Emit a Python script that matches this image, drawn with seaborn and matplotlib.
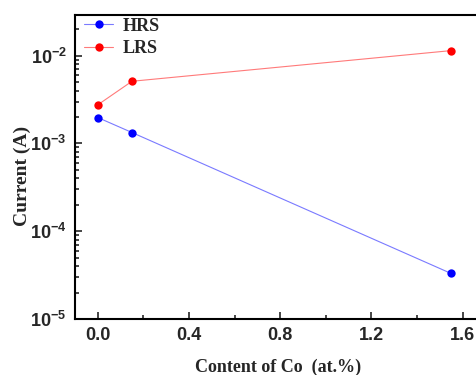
import math
import pandas as pd
import matplotlib
matplotlib.use('Agg')
import matplotlib.pyplot as plt
import matplotlib.ticker as mticker
import seaborn as sns

# Data
co_content = [0.0, 0.15, 1.55]
hrs_current = [1.97e-3, 1.33e-3, 3.3e-5]
lrs_current = [2.75e-3, 5.1e-3, 1.14e-2]

df = pd.DataFrame({
    'co': co_content * 2,
    'current': hrs_current + lrs_current,
    'state': ['HRS'] * len(co_content) + ['LRS'] * len(co_content),
})

marker_colors = {'HRS': '#0000ff', 'LRS': '#ff0000'}
line_colors = {'HRS': '#7a7aff', 'LRS': '#ff7a7a'}

sns.set_style("ticks")
plt.rcParams['font.family'] = ['Liberation Sans', 'DejaVu Sans']
plt.rcParams['mathtext.fontset'] = 'custom'
plt.rcParams['mathtext.bf'] = 'Liberation Sans:bold'
plt.rcParams['mathtext.rm'] = 'Liberation Sans:bold'

fig = plt.figure(figsize=(4.76, 3.75), dpi=100)
ax = fig.add_axes([75 / 476, 56 / 375, 1.0 - 75 / 476 + 0.01, (319 - 15) / 375])

sns.lineplot(data=df, x='co', y='current', hue='state',
             palette=marker_colors,
             marker='o', markersize=6, markeredgewidth=0,
             linewidth=0.8, ax=ax)
for line, st in zip(ax.lines, ['HRS', 'LRS']):
    line.set_color(line_colors[st])
    line.set_markerfacecolor(marker_colors[st])
    line.set_markeredgecolor(marker_colors[st])

ax.set_yscale('log')
ax.set_xlim(-0.1, 1.68)
ax.set_ylim(1e-5, 2.9e-2)

ax.xaxis.set_major_locator(mticker.MultipleLocator(0.4))
ax.xaxis.set_minor_locator(mticker.MultipleLocator(0.2))
ax.xaxis.set_major_formatter(mticker.FormatStrFormatter('%.1f'))
ax.yaxis.set_major_locator(mticker.LogLocator(base=10, numticks=10))
ax.yaxis.set_minor_locator(mticker.LogLocator(base=10, subs=range(2, 10), numticks=20))
ax.yaxis.set_minor_formatter(mticker.NullFormatter())
ax.yaxis.set_major_formatter(mticker.FuncFormatter(
    lambda v, p: r'$\mathbf{10^{%d}}$' % round(math.log10(v))))

ax.tick_params(which='both', direction='in', width=1.2, top=False, right=False)
ax.tick_params(which='major', length=5)
ax.tick_params(which='minor', length=3)
ax.tick_params(axis='x', labelsize=13, pad=6)
ax.tick_params(axis='y', labelsize=13, pad=6)
for lbl in ax.get_xticklabels():
    lbl.set_fontweight('bold')
for s in ax.spines.values():
    s.set_linewidth(1.5)
    s.set_color('black')

ax.set_xlabel('Content of Co  (at.%)', fontsize=13, fontweight='bold',
              family='Liberation Serif', labelpad=10)
ax.set_ylabel('Current (A)', fontsize=14, fontweight='bold',
              family='Liberation Serif')
ax.yaxis.set_label_coords(-0.108, 0.47)

handles, labels = ax.get_legend_handles_labels()
for h, lab in zip(handles, labels):
    h.set_color(line_colors[lab])
    h.set_markerfacecolor(marker_colors[lab])
    h.set_markeredgecolor(marker_colors[lab])
ax.legend(handles, labels, loc='upper left', frameon=False, handlelength=1.6,
          borderaxespad=0.0, bbox_to_anchor=(0.005, 1.015),
          prop={'family': 'Liberation Serif', 'weight': 'bold', 'size': 13},
          labelspacing=0.3, handletextpad=0.5)

fig.savefig('out.png', dpi=100)
